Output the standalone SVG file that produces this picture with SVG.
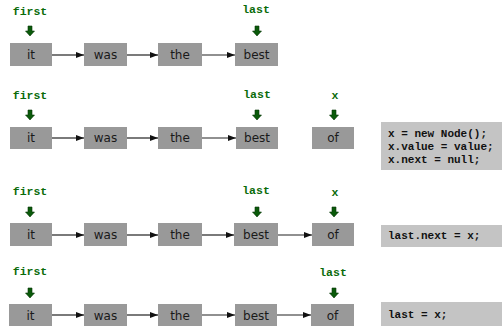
<svg xmlns="http://www.w3.org/2000/svg" width="502" height="326" viewBox="0 0 502 326">
<style>
.box{fill:#999999}
.code{fill:#c4c4c4}
.t{font-family:"DejaVu Sans",sans-serif;font-size:12px;fill:#1a1a1a;text-anchor:middle}
.lbl{font-family:"Liberation Mono",monospace;font-weight:bold;font-size:11.5px;fill:#0a6b0a;text-anchor:middle}
.ct{font-family:"Liberation Mono",monospace;font-weight:bold;font-size:11px;fill:#111}
.c{stroke:#222;stroke-width:1.2;fill:none;marker-end:url(#ah)}
.ga{fill:#0a5a0a;stroke:#063806;stroke-width:0.6}
</style>
<defs>
<marker id="ah" markerWidth="8" markerHeight="6" refX="8" refY="3" orient="auto" markerUnits="userSpaceOnUse">
<path d="M0,0 L8,3 L0,6 Z" fill="#111"/>
</marker>
<path id="g" d="M-2,0 H2 V5 H4.5 L0,10 L-4.5,5 H-2 Z"/>
</defs>
<g id="labels">
<text class="lbl" x="30" y="15">first</text>
<text class="lbl" x="256" y="13">last</text>
<use href="#g" class="ga" x="30" y="26"/>
<use href="#g" class="ga" x="257" y="26"/>
<text class="lbl" x="30" y="99">first</text>
<text class="lbl" x="257" y="98">last</text>
<text class="lbl" x="335" y="99">x</text>
<use href="#g" class="ga" x="30" y="110"/>
<use href="#g" class="ga" x="257" y="110"/>
<use href="#g" class="ga" x="334" y="110"/>
<text class="lbl" x="30" y="195">first</text>
<text class="lbl" x="256" y="194">last</text>
<text class="lbl" x="335" y="196">x</text>
<use href="#g" class="ga" x="30" y="207"/>
<use href="#g" class="ga" x="257" y="207"/>
<use href="#g" class="ga" x="334" y="207"/>
<text class="lbl" x="30" y="275">first</text>
<text class="lbl" x="333" y="276">last</text>
<use href="#g" class="ga" x="30" y="288"/>
<use href="#g" class="ga" x="334" y="288"/>
</g>
<g id="row1">
<g id="n1-it"><rect class="box" x="10" y="43" width="42" height="23"/><text class="t" x="31" y="59">it</text></g>
<g id="n1-was"><rect class="box" x="84" y="43" width="43" height="23"/><text class="t" x="105.5" y="59">was</text></g>
<g id="n1-the"><rect class="box" x="158" y="43" width="44" height="23"/><text class="t" x="180" y="59">the</text></g>
<g id="n1-best"><rect class="box" x="235" y="43" width="43" height="23"/><text class="t" x="256.5" y="59">best</text></g>
</g>
<g id="row2">
<g id="n2-it"><rect class="box" x="10" y="127" width="42" height="22"/><text class="t" x="31" y="142">it</text></g>
<g id="n2-was"><rect class="box" x="84" y="127" width="43" height="22"/><text class="t" x="105.5" y="142">was</text></g>
<g id="n2-the"><rect class="box" x="158" y="127" width="44" height="22"/><text class="t" x="180" y="142">the</text></g>
<g id="n2-best"><rect class="box" x="236" y="127" width="42" height="22"/><text class="t" x="257" y="142">best</text></g>
<g id="n2-of"><rect class="box" x="312" y="127" width="42" height="22"/><text class="t" x="333" y="142">of</text></g>
<g id="code2"><rect class="code" x="381" y="122" width="121" height="48"/>
<text class="ct" x="388" y="137">x = new Node();</text>
<text class="ct" x="388" y="150">x.value = value;</text>
<text class="ct" x="388" y="163">x.next = null;</text></g>
</g>
<g id="row3">
<g id="n3-it"><rect class="box" x="10" y="223" width="42" height="23"/><text class="t" x="31" y="239">it</text></g>
<g id="n3-was"><rect class="box" x="84" y="223" width="43" height="23"/><text class="t" x="105.5" y="239">was</text></g>
<g id="n3-the"><rect class="box" x="158" y="223" width="44" height="23"/><text class="t" x="180" y="239">the</text></g>
<g id="n3-best"><rect class="box" x="234" y="223" width="44" height="23"/><text class="t" x="256" y="239">best</text></g>
<g id="n3-of"><rect class="box" x="312" y="223" width="42" height="23"/><text class="t" x="333" y="239">of</text></g>
<g id="code3"><rect class="code" x="381" y="225" width="121" height="22"/>
<text class="ct" x="388" y="239">last.next = x;</text></g>
</g>
<g id="row4">
<g id="n4-it"><rect class="box" x="9" y="304" width="43" height="22"/><text class="t" x="30.5" y="320">it</text></g>
<g id="n4-was"><rect class="box" x="84" y="304" width="43" height="22"/><text class="t" x="105.5" y="320">was</text></g>
<g id="n4-the"><rect class="box" x="158" y="304" width="44" height="22"/><text class="t" x="180" y="320">the</text></g>
<g id="n4-best"><rect class="box" x="235" y="304" width="42" height="22"/><text class="t" x="256" y="320">best</text></g>
<g id="n4-of"><rect class="box" x="311" y="304" width="43" height="22"/><text class="t" x="332.5" y="320">of</text></g>
<g id="code4"><rect class="code" x="381" y="302" width="121" height="24"/>
<text class="ct" x="388" y="318">last = x;</text></g>
</g>
<g id="connectors">
<path class="c" d="M52,55 H84"/>
<path class="c" d="M127,55 H158"/>
<path class="c" d="M202,55 H235"/>
<path class="c" d="M52,138 H84"/>
<path class="c" d="M127,138 H158"/>
<path class="c" d="M202,138 H236"/>
<path class="c" d="M52,235 H84"/>
<path class="c" d="M127,235 H158"/>
<path class="c" d="M202,235 H234"/>
<path class="c" d="M278,235 H312"/>
<path class="c" d="M52,315 H84"/>
<path class="c" d="M127,315 H158"/>
<path class="c" d="M202,315 H235"/>
<path class="c" d="M277,315 H311"/>
</g>
</svg>
